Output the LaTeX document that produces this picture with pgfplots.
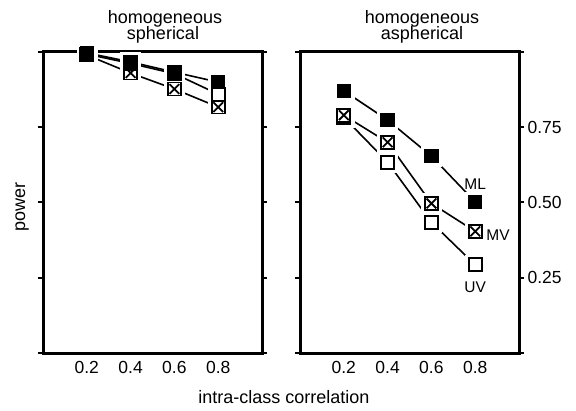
\documentclass[border=0pt]{standalone}
\usepackage{fontspec}
\setmainfont{Liberation Sans}
\usepackage{pgfplots}
\usepackage{pgfplotstable}
\pgfplotsset{compat=1.18}
\usetikzlibrary{plotmarks}

% square with a cross inside
\pgfdeclareplotmark{boxx}{%
  \pgfpathrectangle{\pgfpoint{-\pgfplotmarksize}{-\pgfplotmarksize}}{\pgfpoint{2\pgfplotmarksize}{2\pgfplotmarksize}}%
  \pgfusepathqfillstroke
  \pgfpathmoveto{\pgfpoint{-0.75\pgfplotmarksize}{-0.75\pgfplotmarksize}}%
  \pgfpathlineto{\pgfpoint{0.75\pgfplotmarksize}{0.75\pgfplotmarksize}}%
  \pgfpathmoveto{\pgfpoint{-0.75\pgfplotmarksize}{0.75\pgfplotmarksize}}%
  \pgfpathlineto{\pgfpoint{0.75\pgfplotmarksize}{-0.75\pgfplotmarksize}}%
  \pgfusepathqstroke}

\pgfplotstableread{
x    ml    mv    uv
0.2  0.997 0.990 0.993
0.4  0.967 0.930 0.962
0.6  0.933 0.877 0.928
0.8  0.900 0.817 0.860
}\sph

\pgfplotstableread{
x    ml    mv    uv
0.2  0.871 0.790 0.783
0.4  0.774 0.700 0.634
0.6  0.654 0.497 0.434
0.8  0.502 0.404 0.293
}\asph

\pgfplotsset{
  panel/.style={
    scale only axis, width=219pt, height=301pt,
    xmin=0, xmax=1, ymin=0, ymax=1,
    axis line style={line width=3pt},
    xtick={0.2,0.4,0.6,0.8}, xticklabels={0.2,0.4,0.6,0.8},
    ytick={0,0.25,0.5,0.75,1},
    tick align=outside, major tick length=5pt,
    ytick style={line width=2pt, black},
    xtick style={draw=none},
    ytick pos=both,
    tick label style={font=\fontsize{17.5}{20}\selectfont},
    clip=false,
  },
  ln/.style={black, line width=1.6pt, no marks},
  halo/.style={only marks, mark=square*, mark size=10pt, mark options={draw=white, fill=white}},
  mUV/.style={only marks, mark=square*, mark size=6.5pt, mark options={draw=black, fill=white, line width=2pt}},
  mMV/.style={only marks, mark=boxx, mark size=6.5pt, mark options={draw=black, fill=white, line width=1.8pt}},
  mML/.style={only marks, mark=square*, mark size=6.5pt, mark options={draw=black, fill=black, line width=1.5pt}},
}

\begin{document}
\begin{tikzpicture}
\path[use as bounding box] (0pt,0pt) rectangle (576pt,410pt);

\begin{axis}[panel, at={(43pt,57pt)}, anchor=south west, yticklabels={}]
\addplot[ln] table[x=x, y=uv] {\sph};
\addplot[ln] table[x=x, y=mv] {\sph};
\addplot[ln] table[x=x, y=ml] {\sph};
\addplot[halo] table[x=x, y=uv] {\sph};
\addplot[halo] table[x=x, y=mv] {\sph};
\addplot[halo] table[x=x, y=ml] {\sph};
\addplot[mMV] table[x=x, y=mv] {\sph};
\addplot[mUV] table[x=x, y=uv] {\sph};
\addplot[mML] table[x=x, y=ml] {\sph};
\end{axis}

\begin{axis}[panel, at={(300pt,57pt)}, anchor=south west,
  yticklabel pos=right, ytick pos=both,
  yticklabels={,0.25,0.50,0.75,}]
\addplot[ln] table[x=x, y=uv] {\asph};
\addplot[ln] table[x=x, y=mv] {\asph};
\addplot[ln] table[x=x, y=ml] {\asph};
\addplot[halo] table[x=x, y=uv] {\asph};
\addplot[halo] table[x=x, y=mv] {\asph};
\addplot[halo] table[x=x, y=ml] {\asph};
\addplot[mUV] table[x=x, y=uv] {\asph};
\addplot[mMV] table[x=x, y=mv] {\asph};
\addplot[mML] table[x=x, y=ml] {\asph};
\node[anchor=base, font=\fontsize{15.5}{18}\selectfont] at (axis cs:0.8,0.543) {ML};
\node[anchor=west, inner sep=0pt, font=\fontsize{15.5}{18}\selectfont] at (axis cs:0.85,0.393) {MV};
\node[anchor=base, font=\fontsize{15.5}{18}\selectfont] at (axis cs:0.8,0.2) {UV};
\end{axis}

\begin{scope}[font=\fontsize{18}{15}\selectfont]
\node[anchor=base] at (165pt,386pt) {homogeneous};
\node[anchor=base] at (163pt,370pt) {spherical};
\node[anchor=base] at (422pt,386pt) {homogeneous};
\node[anchor=base] at (422pt,370pt) {aspherical};
\node[anchor=base] at (284pt,7pt) {intra-class correlation};
\node[rotate=90, anchor=base] at (25pt,203pt) {power};
\end{scope}
\end{tikzpicture}
\end{document}
